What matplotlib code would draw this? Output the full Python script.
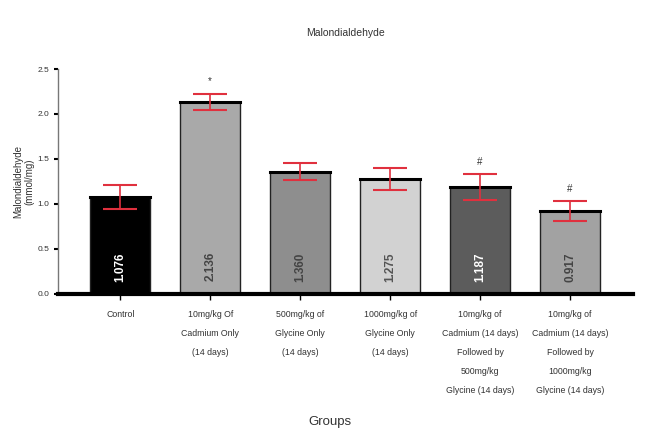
import matplotlib.pyplot as plt

plt.rcParams['font.family'] = ['Liberation Sans', 'DejaVu Sans']

groups = ['Control', '10mg/kg Of\nCadmium Only\n(14 days)', '500mg/kg of\nGlycine Only\n(14 days)',
          '1000mg/kg of\nGlycine Only\n(14 days)',
          '10mg/kg of\nCadmium (14 days)\nFollowed by\n500mg/kg\nGlycine (14 days)',
          '10mg/kg of\nCadmium (14 days)\nFollowed by\n1000mg/kg\nGlycine (14 days)']
means = [1.076, 2.136, 1.360, 1.275, 1.187, 0.917]
sem = [0.13, 0.09, 0.09, 0.12, 0.14, 0.11]
labels = ['1.076', '2.136', '1.360', '1.275', '1.187', '0.917']
marks = ['', '*', '', '', '#', '#']
colors = ['#000000', '#a9a9a9', '#8e8e8e', '#d2d2d2', '#5c5c5c', '#a2a2a2']
label_colors = ['white', '#444444', '#444444', '#555555', 'white', '#444444']

fig = plt.figure(figsize=(6.54, 4.34), dpi=100)
ax = fig.add_axes([0.089, 0.323, 0.879, 0.518])

x = list(range(len(means)))
ax.bar(x, means, width=0.67, color=colors, edgecolor='#222222', linewidth=1.0, zorder=2)
# thick top edges like the original
for xi, m in zip(x, means):
    ax.plot([xi - 0.335, xi + 0.335], [m, m], color='black', lw=2.2, zorder=3)
ax.errorbar(x, means, yerr=sem, fmt='none', ecolor='#e0303e', elinewidth=1.2,
            capsize=12, capthick=1.5, zorder=4)

for xi, lab, c in zip(x, labels, label_colors):
    ax.text(xi, 0.3, lab, rotation=90, ha='center', va='center', color=c,
            fontsize=8.5, fontweight='bold', zorder=5)
for xi, m, s, mk in zip(x, means, sem, marks):
    if mk:
        ax.text(xi, m + s + 0.08, mk, ha='center', va='bottom', fontsize=7, color='#333333')

ax.set_xlim(-0.69, 5.7)
ax.set_ylim(0, 2.5)
ax.set_yticks([0.0, 0.5, 1.0, 1.5, 2.0, 2.5])
ax.set_yticklabels(['0.0', '0.5', '1.0', '1.5', '2.0', '2.5'])
ax.set_xticks(x)
ax.set_xticklabels(groups, fontsize=6.3, color='#333333', linespacing=2.4)
ax.tick_params(axis='y', labelsize=6, length=3, width=1.5, colors='black', labelcolor='#333333')
ax.tick_params(axis='x', length=4, width=1, pad=8)

for s in ['top', 'right']:
    ax.spines[s].set_visible(False)
ax.spines['left'].set_color('#777777')
ax.spines['left'].set_linewidth(1.0)
ax.spines['bottom'].set_linewidth(3)
ax.spines['bottom'].set_color('black')

ax.set_ylabel('Malondialdehyde\n(mmol/mg)', fontsize=7, color='#333333', labelpad=2)
ax.set_title('Malondialdehyde', fontsize=7.5, color='#333333', pad=24)
fig.text(0.505, 0.02, 'Groups', ha='center', fontsize=9.5, color='#333333')

fig.savefig('out.png', dpi=100)
